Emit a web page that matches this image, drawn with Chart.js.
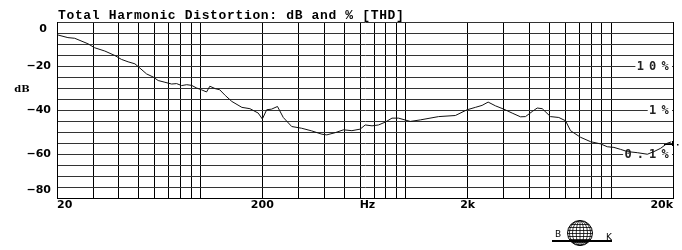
<!DOCTYPE html>
<html>
<head>
<meta charset="utf-8">
<script src="https://cdn.jsdelivr.net/npm/chart.js@4"></script>
<style>
  body { margin: 0; background: #fff; }
  canvas { display: block; }
</style>
</head>
<body>
<canvas id="thdChart" width="682" height="250"></canvas>
<script>
// THD curve (Hz, dB)
const freqs = [20, 22.6, 24.4, 28.3, 30.5, 34.2, 38.2, 41.2, 44.4, 47.9, 50.6, 54.6, 58.8, 62.2, 67.1, 72.3, 76.5, 80.9, 85.6, 90.5, 95.7,
  101, 107, 111, 118, 124, 132, 139, 142, 159, 174, 191, 200, 210, 222, 237, 253, 278, 311, 348, 390, 412, 453, 497, 546, 599, 634, 684,
  736, 794, 856, 921, 1051, 1176, 1444, 1742, 1987, 2180, 2351, 2516, 2730, 2996, 3294, 3617, 3825, 4124, 4362, 4614, 5064, 5557, 5994,
  6338, 7092, 7933, 8878, 9572, 10308, 11114, 11988, 13408, 15006, 16154, 17420, 18782, 19600];
const thdDb = [-5.8, -7.1, -7.4, -9.9, -11.7, -13.2, -15.2, -17.0, -18.1, -19.0, -20.9, -23.6, -25.0, -26.6, -27.4, -28.2, -28.0, -28.9, -28.5, -28.8, -30.0,
  -30.8, -31.8, -29.2, -30.3, -30.8, -33.4, -35.3, -36.1, -38.8, -39.4, -41.4, -44.1, -39.9, -39.6, -38.4, -43.4, -47.5, -48.3, -49.5, -51.0, -51.3, -50.3, -49.0, -49.4, -48.7, -46.8, -47.2,
  -46.8, -45.5, -43.7, -43.7, -45.2, -44.5, -43.0, -42.5, -39.9, -38.8, -37.9, -36.4, -38.1, -39.6, -41.4, -43.1, -43.0, -40.7, -39.1, -39.4, -43.0, -43.4, -44.9,
  -49.4, -52.4, -54.4, -55.4, -56.7, -57.0, -57.9, -58.9, -59.4, -60.1, -58.9, -57.4, -55.1, -54.5];

const gridFreqs = [20, 30, 40, 50, 60, 70, 80, 90, 100, 200, 300, 400, 500, 600, 700, 800, 900, 1000,
  2000, 3000, 4000, 5000, 6000, 7000, 8000, 9000, 10000, 20000];
const gridDb = [0, -5, -10, -15, -20, -25, -30, -35, -40, -45, -50, -55, -60, -65, -70, -75, -80];

const xLabelValues = [20, 200, 650, 2000, 20000];
const xLabelTexts = ['20', '200', 'Hz', '2k', '20k'];
const yLabelValues = [0, -20, -40, -60, -80];
const yLabelTexts = ['0', '-20', '-40', '-60', '-80'];
const pctLabelValues = [-20, -40, -60];
const pctLabelTexts = ['10%', '1%', '0.1%'];

const titleText = 'Total Harmonic Distortion: dB and % [THD]';

function drawSpaced(ctx, text, rightCenter, y, pitch) {
  const n = text.length;
  for (let i = 0; i < n; i++) {
    ctx.fillText(text[i], rightCenter - (n - 1 - i) * pitch, y);
  }
}

const labelsPlugin = {
  id: 'labels',
  beforeDatasetsDraw(chart) {
    const ctx = chart.ctx;
    const y = chart.scales.y;
    const right = chart.chartArea.right;
    ctx.save();
    ctx.font = 'bold 12px "DejaVu Sans Mono"';
    ctx.textAlign = 'center';
    ctx.textBaseline = 'middle';
    pctLabelValues.forEach((v, i) => {
      const py = y.getPixelForValue(v);
      const txt = pctLabelTexts[i];
      const first = 665 - (txt.length - 1) * 12.3;
      ctx.fillStyle = '#fff';
      ctx.fillRect(first - 5, py - 4, right - 1 - (first - 5), 9);
      ctx.fillStyle = '#222';
      drawSpaced(ctx, txt, 665, py + 1, 12.3);
    });
    ctx.restore();
  },
  afterDraw(chart) {
    const ctx = chart.ctx;
    const xs = chart.scales.x;
    const ys = chart.scales.y;
    const area = chart.chartArea;
    ctx.save();

    // title
    ctx.fillStyle = '#000';
    ctx.font = 'bold 13px "Liberation Mono"';
    ctx.textAlign = 'left';
    ctx.textBaseline = 'alphabetic';
    ctx.letterSpacing = '0.65px';
    ctx.fillText(titleText, 58, 18.5);
    ctx.letterSpacing = '0px';

    // y labels
    ctx.font = 'bold 11px "DejaVu Sans"';
    ctx.textBaseline = 'middle';
    yLabelValues.forEach((v, i) => {
      let py = ys.getPixelForValue(v);
      if (v === 0) {
        ctx.textAlign = 'center';
        ctx.fillText(yLabelTexts[i], 43, py + 7);
        return;
      }
      if (v === -80) py -= 8;
      ctx.textAlign = 'right';
      ctx.fillText(yLabelTexts[i].replace('-', '\u2212'), 51, py);
    });

    ctx.font = 'bold 10px "DejaVu Serif"';
    ctx.textAlign = 'center';
    ctx.fillText('dB', 22, 89.5);

    // x labels
    ctx.font = 'bold 11px "DejaVu Sans"';
    xLabelValues.forEach((v, i) => {
      const px = xs.getPixelForValue(v);
      if (i === 0) { ctx.textAlign = 'left'; ctx.fillText(xLabelTexts[i], area.left, 205); }
      else if (i === xLabelValues.length - 1) { ctx.textAlign = 'right'; ctx.fillText(xLabelTexts[i], area.right, 205); }
      else { ctx.textAlign = 'center'; ctx.fillText(xLabelTexts[i], px, 205); }
    });

    // end marker at right edge
    ctx.strokeStyle = '#000';
    ctx.lineWidth = 1;
    ctx.beginPath();
    ctx.moveTo(area.right - 0.5, 141); ctx.lineTo(area.right - 0.5, 146);
    ctx.moveTo(area.right - 9, 144.5); ctx.lineTo(area.right - 1, 144.5);
    ctx.stroke();
    ctx.fillRect(677, 144, 1.5, 1.5);

    // B&K globe logo
    const cx = 580, cy = 233, r = 12.5;
    ctx.save();
    ctx.beginPath();
    ctx.arc(cx, cy, r, 0, Math.PI * 2);
    ctx.stroke();
    ctx.clip();
    ctx.lineWidth = 0.8;
    [0.3, 0.6, 0.85].forEach(k => {
      ctx.beginPath();
      ctx.ellipse(cx, cy, r * k, r, 0, 0, Math.PI * 2);
      ctx.stroke();
    });
    ctx.beginPath();
    ctx.moveTo(cx, cy - r); ctx.lineTo(cx, cy + r);
    for (let yy = cy - 9; yy <= cy + 12; yy += 3) {
      ctx.moveTo(cx - r, yy + 0.5); ctx.lineTo(cx + r, yy + 0.5);
    }
    ctx.stroke();
    ctx.restore();
    ctx.lineWidth = 2;
    ctx.beginPath();
    ctx.moveTo(552, 241); ctx.lineTo(612, 241);
    ctx.stroke();
    ctx.font = '9px "DejaVu Sans"';
    ctx.textAlign = 'left';
    ctx.fillText('B', 555, 235);
    ctx.fillText('K', 606, 238);

    ctx.restore();
  }
};

new Chart(document.getElementById('thdChart').getContext('2d'), {
  type: 'line',
  data: {
    datasets: [{
      data: freqs.map((f, i) => ({ x: f, y: thdDb[i] })),
      borderColor: '#111',
      borderWidth: 1,
      pointRadius: 0,
      tension: 0,
      fill: false
    }]
  },
  options: {
    responsive: false,
    animation: false,
    layout: { padding: { left: 57, top: 22, right: 9, bottom: 52 } },
    plugins: { legend: { display: false }, tooltip: { enabled: false }, title: { display: false } },
    scales: {
      x: {
        type: 'logarithmic',
        min: 20,
        max: 20000,
        afterBuildTicks: axis => { axis.ticks = gridFreqs.map(v => ({ value: v })); },
        ticks: { display: false },
        grid: { color: '#000', lineWidth: 1, drawTicks: false },
        border: { color: '#000', width: 1 }
      },
      y: {
        type: 'linear',
        min: -80,
        max: 0,
        afterBuildTicks: axis => { axis.ticks = gridDb.map(v => ({ value: v })); },
        ticks: { display: false },
        grid: { color: '#333', lineWidth: 1, drawTicks: false },
        border: { color: '#000', width: 1 }
      }
    }
  },
  plugins: [labelsPlugin]
});
</script>
</body>
</html>
